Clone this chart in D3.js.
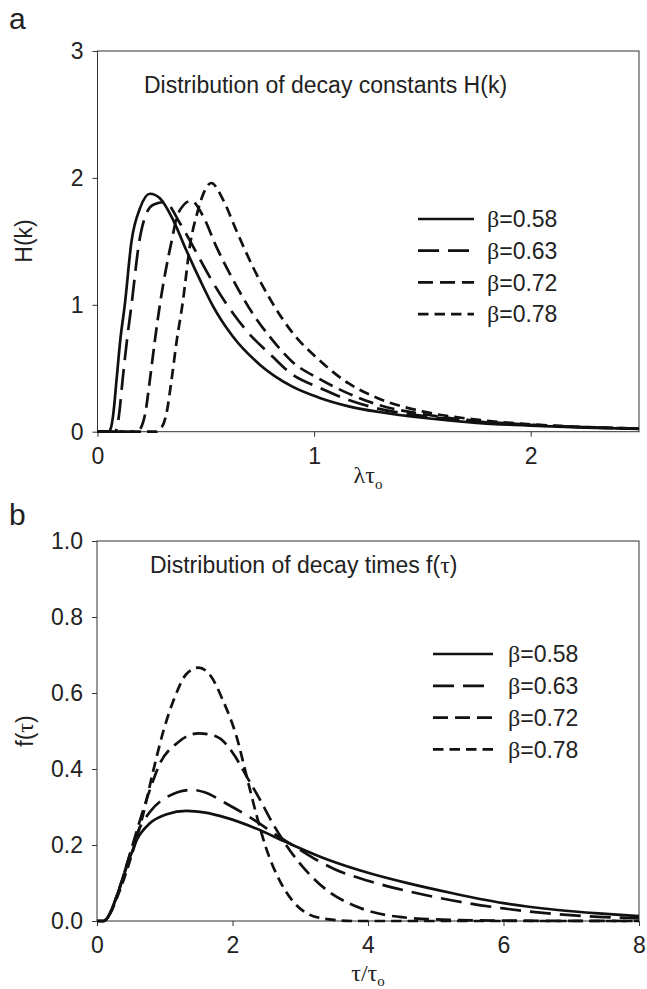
<!DOCTYPE html>
<html>
<head>
<meta charset="utf-8">
<script src="https://cdn.jsdelivr.net/npm/d3@7"></script>
<style>
  body { margin: 0; background: #fff; }
  svg text { font-family: "Liberation Sans", Arial, sans-serif; fill: #222; }
  .greek { font-family: "Liberation Serif", "Times New Roman", serif; }
</style>
</head>
<body>
<svg id="chart" width="647" height="989"></svg>
<script>
// ---- data ----
let betas = ['0.58', '0.63', '0.72', '0.78'];

// panel a: H(k) against lambda*tau_o
let aXTicks = [0, 1, 2];
let aYTicks = [0, 1, 2, 3];
let hB58 = [[0,0],[0.05,0],[0.062,0.03],[0.073,0.14],[0.088,0.41],[0.105,0.72],[0.126,1.0],[0.157,1.5],[0.196,1.76],[0.242,1.875],[0.288,1.84],[0.349,1.67],[0.41,1.43],[0.472,1.2],[0.533,0.99],[0.625,0.75],[0.748,0.53],[0.9,0.355],[1.02,0.27],[1.16,0.2],[1.3,0.155],[1.5,0.11],[1.75,0.07],[2.0,0.048],[2.25,0.032],[2.5,0.022]];
let hB63 = [[0,0],[0.08,0],[0.09,0.03],[0.1,0.14],[0.116,0.41],[0.136,0.72],[0.157,1.0],[0.193,1.5],[0.226,1.72],[0.26,1.79],[0.31,1.81],[0.38,1.645],[0.441,1.46],[0.518,1.22],[0.594,1.01],[0.686,0.8],[0.809,0.59],[0.9,0.45],[1.02,0.35],[1.16,0.25],[1.3,0.18],[1.5,0.125],[1.75,0.08],[2.0,0.052],[2.25,0.035],[2.5,0.024]];
let hB72 = [[0,0],[0.18,0],[0.2,0.03],[0.22,0.14],[0.242,0.41],[0.265,0.72],[0.288,1.0],[0.342,1.5],[0.372,1.72],[0.433,1.82],[0.487,1.7],[0.548,1.46],[0.625,1.2],[0.717,0.93],[0.809,0.72],[0.9,0.55],[1.02,0.42],[1.16,0.3],[1.3,0.21],[1.5,0.14],[1.75,0.085],[2.0,0.055],[2.25,0.036],[2.5,0.024]];
let hB78 = [[0,0],[0.27,0],[0.295,0.03],[0.318,0.14],[0.342,0.41],[0.366,0.72],[0.392,1.0],[0.43,1.5],[0.46,1.72],[0.49,1.88],[0.525,1.96],[0.579,1.83],[0.64,1.59],[0.717,1.3],[0.809,1.01],[0.9,0.78],[1.02,0.57],[1.16,0.38],[1.3,0.26],[1.5,0.16],[1.75,0.095],[2.0,0.058],[2.25,0.037],[2.5,0.024]];

// panel b: f(tau) against tau/tau_o
let bXTicks = [0, 2, 4, 6, 8];
let bYTicks = [0, 0.2, 0.4, 0.6, 0.8, 1.0];
let fB58 = [[0,0],[0.1,0],[0.14,0.005],[0.29,0.064],[0.44,0.143],[0.586,0.213],[0.78,0.257],[1.03,0.281],[1.32,0.29],[1.6,0.285],[1.9,0.272],[2.3,0.247],[2.8,0.207],[3.4,0.162],[4.0,0.127],[4.6,0.099],[5.25,0.073],[6.0,0.047],[6.8,0.029],[7.4,0.02],[8,0.013]];
let fB63 = [[0,0],[0.1,0],[0.14,0.005],[0.29,0.065],[0.44,0.148],[0.586,0.228],[0.78,0.287],[1.03,0.326],[1.4,0.345],[1.6,0.338],[1.9,0.31],[2.3,0.268],[2.6,0.232],[2.9,0.198],[3.2,0.165],[3.5,0.137],[4.0,0.106],[4.6,0.078],[5.25,0.054],[6.0,0.033],[6.8,0.018],[7.4,0.011],[8,0.007]];
let fB72 = [[0,0],[0.1,0],[0.14,0.005],[0.3,0.07],[0.45,0.155],[0.6,0.245],[0.78,0.345],[0.93,0.415],[1.18,0.468],[1.5,0.494],[1.77,0.485],[2.01,0.441],[2.21,0.38],[2.41,0.318],[2.6,0.255],[2.85,0.185],[3.1,0.13],[3.4,0.08],[3.7,0.048],[4.0,0.027],[4.5,0.01],[5.2,0.003],[6,0.001],[8,0]];
let fB78 = [[0,0],[0.1,0],[0.14,0.005],[0.34,0.082],[0.54,0.19],[0.68,0.28],[0.83,0.395],[0.98,0.5],[1.15,0.59],[1.32,0.65],[1.5,0.667],[1.67,0.647],[1.86,0.58],[2.06,0.485],[2.21,0.38],[2.36,0.275],[2.5,0.19],[2.7,0.105],[2.9,0.05],[3.1,0.02],[3.4,0.005],[3.8,0],[8,0]];

let dashes = ['none', '21,9', '15,7', '10.5,6'];

let svg = d3.select('#chart');

function drawPanel(p) {
	let x = d3.scaleLinear().domain(p.xDomain).range([p.left, p.right]);
	let y = d3.scaleLinear().domain(p.yDomain).range([p.bottom, p.top]);
	let g = svg.append('g');

	// frame
	g.append('rect')
		.attr('x', p.left).attr('y', p.top)
		.attr('width', p.right - p.left).attr('height', p.bottom - p.top)
		.style('fill', 'none').style('stroke', '#333').style('stroke-width', 1);

	let xAxis = d3.axisBottom(x).tickValues(p.xTicks).tickSize(5).tickPadding(11).tickFormat(p.xFmt);
	let yAxis = d3.axisLeft(y).tickValues(p.yTicks).tickSize(5).tickPadding(9).tickFormat(p.yFmt);
	let gx = g.append('g').attr('transform', 'translate(0,' + p.bottom + ')').call(xAxis);
	let gy = g.append('g').attr('transform', 'translate(' + p.left + ',0)').call(yAxis);
	for (let a of [gx, gy]) {
		a.select('.domain').remove();
		a.selectAll('line').style('stroke', '#333');
		a.selectAll('text').style('font-size', '23px').style('fill', '#222').style('font-family', '"Liberation Sans", Arial, sans-serif');
	}

	// curves
	let line = d3.line().x(d => x(d[0])).y(d => y(d[1])).curve(d3.curveMonotoneX);
	g.selectAll('path.curve').data(p.series).join('path')
		.attr('class', 'curve')
		.attr('d', d => line(d))
		.style('fill', 'none')
		.style('stroke', '#111')
		.style('stroke-width', 2.7)
		.style('stroke-dasharray', (d, i) => dashes[i]);

	// legend
	let lg = g.append('g');
	lg.selectAll('line').data(betas).join('line')
		.attr('x1', p.legX).attr('x2', p.legX + p.legLen)
		.attr('y1', (d, i) => p.legY + i * p.legStep)
		.attr('y2', (d, i) => p.legY + i * p.legStep)
		.style('stroke', '#111').style('stroke-width', 2.7)
		.style('stroke-dasharray', (d, i) => dashes[i]);
	let lt = lg.selectAll('text').data(betas).join('text')
		.attr('x', p.legX + p.legLen + p.legGap)
		.attr('y', (d, i) => p.legY + i * p.legStep)
		.attr('dy', '0.36em')
		.style('font-size', '23px');
	lt.append('tspan').attr('class', 'greek').style('font-size', '24px').text('β');
	lt.append('tspan').text(d => '=' + d);

	// title inside the frame
	let t = g.append('text').attr('x', p.titleX).attr('y', p.titleY).style('font-size', '23px');
	t.append('tspan').text(p.title[0]);
	if (p.title[1]) {
		t.append('tspan').attr('class', 'greek').style('font-size', '24px').text(p.title[1]);
		t.append('tspan').text(p.title[2]);
	}

	// panel letter
	svg.append('text').attr('x', 9).attr('y', p.letterY).style('font-size', '30px').text(p.letter);
}

drawPanel({
	letter: 'a', letterY: 29,
	left: 97.5, right: 639, top: 51, bottom: 431.7,
	xDomain: [0, 2.5], yDomain: [0, 3],
	xTicks: aXTicks, yTicks: aYTicks,
	xFmt: d3.format('d'), yFmt: d3.format('d'),
	series: [hB58, hB63, hB72, hB78],
	legX: 418, legLen: 56, legGap: 13, legY: 219, legStep: 31.7,
	titleX: 144, titleY: 93, title: ['Distribution of decay constants H(k)']
});

drawPanel({
	letter: 'b', letterY: 525,
	left: 97, right: 639, top: 541, bottom: 921,
	xDomain: [0, 8], yDomain: [0, 1],
	xTicks: bXTicks, yTicks: bYTicks,
	xFmt: d3.format('d'), yFmt: d3.format('.1f'),
	series: [fB58, fB63, fB72, fB78],
	legX: 433, legLen: 60, legGap: 15, legY: 654, legStep: 31.8,
	titleX: 150, titleY: 573, title: ['Distribution of decay times  f(', 'τ', ')']
});

// axis titles
let xa = svg.append('text').attr('x', 368).attr('y', 483).attr('text-anchor', 'middle').attr('class', 'greek').style('font-size', '24px');
xa.append('tspan').text('λτ');
xa.append('tspan').attr('dy', 6).style('font-size', '15px').text('o');

let xb = svg.append('text').attr('x', 368).attr('y', 981).attr('text-anchor', 'middle').attr('class', 'greek').style('font-size', '24px');
xb.append('tspan').text('τ/τ');
xb.append('tspan').attr('dy', 5).style('font-size', '15px').text('o');

svg.append('text').attr('transform', 'translate(32,241) rotate(-90)').attr('text-anchor', 'middle')
	.style('font-size', '23px').text('H(k)');

let yb = svg.append('text').attr('transform', 'translate(33,731) rotate(-90)').attr('text-anchor', 'middle').style('font-size', '23px');
yb.append('tspan').text('f(');
yb.append('tspan').attr('class', 'greek').style('font-size', '24px').text('τ');
yb.append('tspan').text(')');
</script>
</body>
</html>
